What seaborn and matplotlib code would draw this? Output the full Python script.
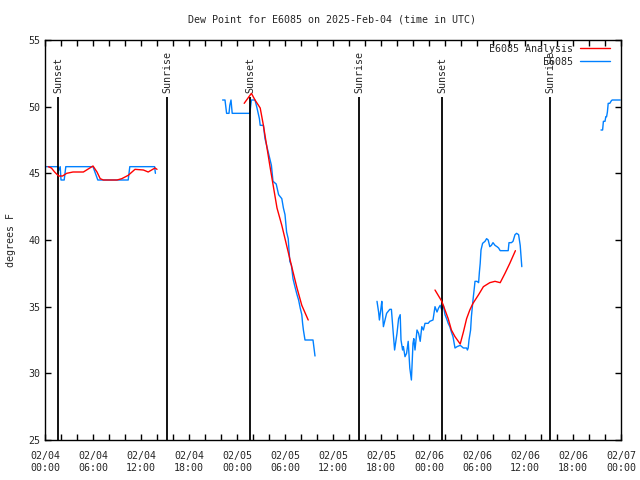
import pandas as pd
import seaborn as sns
import matplotlib.pyplot as plt
import matplotlib.dates as mdates

# hours after 2025-02-04 00:00 UTC, dew point in degrees F
obs_hours = [
    0.0, 1.6, 1.7, 1.9, 2.0, 2.4, 2.6, 6.0, 6.6, 10.4, 10.6, 13.7, 13.8,
    22.2, 22.5, 22.7, 23.0, 23.1, 23.25, 23.4, 25.6, 25.8, 26.25, 26.5, 26.8, 26.9, 27.3,
    27.5, 27.9, 28.3, 28.5, 28.9, 29.2, 29.6, 29.8, 30.0, 30.2, 30.4, 30.6, 30.8, 31.0,
    31.2, 31.5, 31.7, 31.9, 32.1, 32.2, 32.3, 32.5, 33.5, 33.75,
    41.5, 41.7, 41.8, 42.0, 42.1, 42.3, 42.5, 42.7, 43.1, 43.3, 43.5, 43.7, 44.0, 44.2,
    44.4, 44.5, 44.7, 44.8, 45.0, 45.2, 45.4, 45.6, 45.8, 46.0, 46.1, 46.25, 46.5, 46.7,
    46.9, 47.1, 47.3, 47.5, 47.9, 48.1, 48.5, 48.75, 49.0, 49.2, 49.4, 49.6, 49.8, 50.0,
    50.2, 50.4, 50.6, 50.8, 51.0, 51.25, 51.5, 51.9, 52.3, 52.7, 52.8, 52.9, 53.0, 53.2,
    53.3, 53.5, 53.7, 53.75, 54.0, 54.2, 54.3, 54.4, 54.5, 54.7, 55.0, 55.2, 55.4, 55.6,
    55.8, 56.0, 56.25, 56.5, 56.7, 56.9, 57.9, 58.0, 58.3, 58.5, 58.75, 58.95, 59.2, 59.4,
    59.6,
    69.5, 69.7, 69.8, 70.0, 70.1, 70.2, 70.3, 70.4, 70.6, 70.8, 70.9, 71.9,
]
obs_dew = [
    45.5, 45.5, 45.2, 45.5, 44.5, 44.5, 45.5, 45.5, 44.5, 44.5, 45.5, 45.5, 45.0,
    50.5, 50.5, 49.5, 49.5, 50.1, 50.5, 49.5, 49.5, 50.5, 50.5, 49.9, 49.1, 48.6, 48.6,
    47.6, 46.6, 45.6, 44.4, 44.2, 43.4, 43.1, 42.4, 41.9, 40.6, 40.1, 38.4, 38.1, 37.1,
    36.6, 35.9, 35.5, 34.9, 34.4, 33.75, 33.25, 32.5, 32.5, 31.3,
    35.4, 34.6, 34.0, 34.9, 35.4, 33.5, 34.0, 34.5, 34.8, 34.8, 33.25, 31.75, 33.0, 34.1,
    34.4, 32.5, 31.75, 32.0, 31.25, 31.5, 32.4, 30.4, 29.5, 32.25, 32.6, 31.75, 33.25, 33.0,
    32.4, 33.5, 33.25, 33.75, 33.75, 33.9, 34.0, 35.0, 34.6, 34.9, 35.1, 34.75, 35.1, 34.4,
    34.1, 33.75, 33.5, 33.1, 32.75, 31.9, 32.0, 32.1, 31.9, 31.9, 31.75, 31.9, 32.5, 33.25,
    34.25, 35.5, 36.6, 36.9, 36.9, 36.8, 37.6, 38.25, 39.25, 39.75, 39.9, 40.1, 40.0, 39.5,
    39.6, 39.8, 39.6, 39.5, 39.4, 39.2, 39.2, 39.8, 39.8, 39.9, 40.4, 40.5, 40.4, 39.6,
    38.0,
    48.25, 48.25, 48.9, 48.9, 49.25, 49.25, 49.6, 50.25, 50.25, 50.45, 50.5, 50.5,
]

ana_hours = [
    0.4, 0.8, 1.2, 1.7, 2.2, 2.7, 3.5, 4.8, 5.6, 6.0, 6.5, 6.9, 7.3, 9.0, 9.6, 10.4,
    11.25, 12.3, 12.9, 13.75, 14.0,
    24.9, 25.8, 26.25, 26.9, 27.3, 27.7, 28.1, 29.0, 29.6, 30.2, 30.8, 31.5, 32.1, 32.9,
    48.75, 49.6, 50.0, 50.4, 50.8, 51.25, 51.9, 52.3, 52.7, 53.1, 53.5, 54.2, 54.8, 55.6,
    56.25, 56.9, 57.5, 58.1, 58.8,
]
ana_dew = [
    45.5, 45.4, 45.1, 44.8, 44.8, 45.0, 45.1, 45.1, 45.4, 45.55, 45.1, 44.6, 44.5, 44.5,
    44.6, 44.85, 45.3, 45.25, 45.1, 45.4, 45.3,
    50.25, 51.0, 50.5, 49.9, 48.6, 47.1, 45.6, 42.4, 41.1, 39.6, 38.1, 36.4, 35.1, 34.0,
    36.25, 35.4, 34.75, 34.1, 33.25, 32.75, 32.2, 33.1, 34.1, 34.75, 35.25, 35.9, 36.5,
    36.8, 36.9, 36.8, 37.5, 38.25, 39.2,
]

sun_hours = [1.625, 15.25, 25.625, 39.25, 49.625, 63.125]
sun_labels = ["Sunset", "Sunrise", "Sunset", "Sunrise", "Sunset", "Sunrise"]

start = pd.Timestamp("2025-02-04 00:00")


def make_frame(hours, dew, name):
    d = pd.DataFrame({"hours": hours, "dew": dew})
    d["series"] = name
    # data gaps of more than 6 hours break the line
    d["unit"] = name + (d["hours"].diff() > 6).cumsum().astype(str)
    return d


df = pd.concat([make_frame(obs_hours, obs_dew, "E6085"),
                make_frame(ana_hours, ana_dew, "E6085 Analysis")], ignore_index=True)
df["time"] = start + pd.to_timedelta(df["hours"], unit="h")

sns.set_theme(style="ticks")
plt.rcParams["font.family"] = ["DejaVu Sans Mono"]
fs = 7.2

fig = plt.figure(figsize=(6.4, 4.8), dpi=100)
ax = fig.add_axes([45 / 640, 40 / 480, 576 / 640, 400 / 480])

sns.lineplot(data=df, x="time", y="dew", hue="series", units="unit", estimator=None,
             sort=False, hue_order=["E6085 Analysis", "E6085"],
             palette={"E6085 Analysis": "#ff0000", "E6085": "#0080ff"},
             linewidth=1.0, ax=ax)
# keep the analysis line on top
for ln in ax.lines:
    if ln.get_color() == "#ff0000":
        ln.set_zorder(3)

# sunrise / sunset markers
for h, lab in zip(sun_hours, sun_labels):
    t = start + pd.Timedelta(hours=h)
    ax.vlines(t, 25, 50.7, color="black", linewidth=1.3)
    ax.text(t, 51.05, lab, rotation=90, ha="center", va="bottom", fontsize=fs)

ax.set_xlim(start, start + pd.Timedelta(hours=72))
ax.set_ylim(25, 55)
ax.set_yticks(range(25, 56, 5))
ax.xaxis.set_major_locator(mdates.HourLocator(byhour=range(0, 24, 6)))
ax.xaxis.set_minor_locator(mdates.HourLocator(byhour=range(0, 24, 2)))
ax.xaxis.set_major_formatter(mdates.DateFormatter("%m/%d\n%H:%M"))
ax.tick_params(which="both", direction="in", top=True, right=True, length=4,
               width=1, labelsize=fs, color="black")
ax.tick_params(axis="x", pad=8)
for s in ax.spines.values():
    s.set_color("black")
    s.set_linewidth(1.0)

ax.set_xlabel("")
ax.set_ylabel("degrees F", fontsize=fs, labelpad=9)
fig.suptitle("Dew Point for E6085 on 2025-Feb-04 (time in UTC)", x=0.519, y=0.969,
             fontsize=fs)

leg = ax.legend(loc="upper right", bbox_to_anchor=(0.988, 1.0), borderaxespad=0,
                frameon=False, markerfirst=False, fontsize=fs, handlelength=3.0,
                handletextpad=0.7, labelspacing=0.3)
for t in leg.get_texts():
    t.set_ha("right")

fig.savefig("out.png", dpi=100)
